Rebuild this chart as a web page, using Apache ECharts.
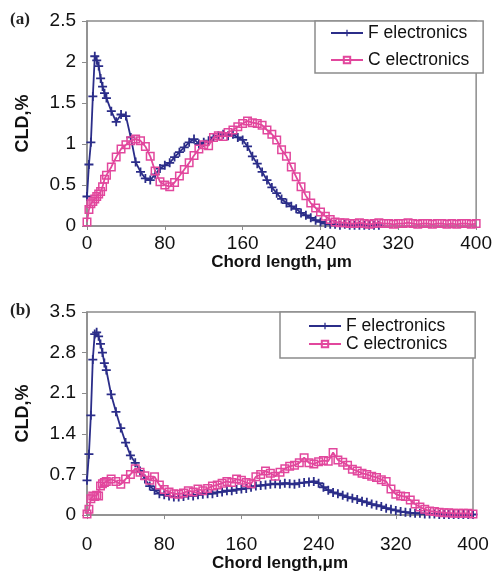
<!DOCTYPE html>
<html>
<head>
<meta charset="utf-8">
<script src="https://cdn.jsdelivr.net/npm/echarts@6/dist/echarts.min.js"></script>
<style>
  html, body { margin: 0; padding: 0; background: #fff; }
  #main { width: 495px; height: 573px; }
</style>
</head>
<body>
<div id="main"></div>
<script>
// chord length bins, um (shared by both panels)
var chordLen = [0, 2, 4, 6, 8, 10, 12, 14, 16, 18, 20,
  25, 30, 35, 40, 45, 50, 55, 60, 65, 70, 75, 80, 85, 90, 95, 100,
  105, 110, 115, 120, 125, 130, 135, 140, 145, 150, 155, 160, 165, 170, 175, 180,
  185, 190, 195, 200, 205, 210, 215, 220, 225, 230, 235, 240, 245, 250, 255, 260,
  265, 270, 275, 280, 285, 290, 295, 300, 305, 310, 315, 320, 325, 330, 335, 340,
  345, 350, 355, 360, 365, 370, 375, 380, 385, 390, 395, 400];

// panel (a)
var fElecA = [0.36, 0.75, 1.02, 1.58, 2.07, 2.02, 1.95, 1.80, 1.70, 1.62, 1.56,
  1.40, 1.27, 1.36, 1.34, 1.08, 0.78, 0.66, 0.58, 0.56, 0.63,
  0.70, 0.74, 0.77, 0.84, 0.90, 0.96, 1.02, 1.06, 1.00, 1.02,
  1.04, 1.08, 1.10, 1.12, 1.10, 1.12, 1.08, 1.05, 0.97, 0.85,
  0.76, 0.66, 0.56, 0.47, 0.40, 0.33, 0.28, 0.24, 0.21, 0.16,
  0.13, 0.10, 0.07, 0.05, 0.03, 0.02, 0.02, 0.01, 0.02, 0.01,
  0.01, 0.01, 0.01, 0.01, 0.01, 0.01];
var cElecA = [0.05, 0.20, 0.27, 0.30, 0.33, 0.36, 0.39, 0.42, 0.48, 0.57, 0.62,
  0.72, 0.84, 0.94, 0.99, 1.04, 1.06, 1.04, 0.97, 0.85, 0.67,
  0.54, 0.50, 0.48, 0.53, 0.61, 0.69, 0.77, 0.86, 0.94, 0.99,
  0.98, 1.08, 1.10, 1.09, 1.14, 1.17, 1.21, 1.25, 1.28, 1.26,
  1.25, 1.23, 1.17, 1.12, 1.05, 0.93, 0.85, 0.72, 0.60, 0.48,
  0.37, 0.28, 0.22, 0.17, 0.12, 0.08, 0.05, 0.04,
  0.04, 0.03, 0.03, 0.04, 0.03, 0.02, 0.03, 0.04, 0.03, 0.03,
  0.02, 0.03, 0.03, 0.04, 0.03, 0.02, 0.03, 0.03, 0.02, 0.03,
  0.03, 0.02, 0.03, 0.02, 0.03, 0.03, 0.02, 0.03];

// panel (b)
var fElecB = [0.60, 1.05, 1.72, 2.68, 3.12, 3.15, 3.08, 2.95, 2.80, 2.62, 2.50,
  2.08, 1.78, 1.50, 1.25, 1.03, 0.90, 0.76, 0.62, 0.50, 0.43,
  0.37, 0.35, 0.33, 0.31, 0.31, 0.32, 0.34, 0.33, 0.35, 0.36,
  0.37, 0.37, 0.39, 0.40, 0.42, 0.42, 0.44, 0.45, 0.46, 0.48,
  0.50, 0.51, 0.52, 0.53, 0.54, 0.53, 0.55, 0.54, 0.53, 0.55,
  0.56, 0.57, 0.58, 0.55, 0.48, 0.43, 0.39, 0.37, 0.34, 0.31,
  0.29, 0.27, 0.24, 0.22, 0.19, 0.17, 0.15, 0.12, 0.10, 0.08,
  0.06, 0.05, 0.04, 0.03, 0.03, 0.02, 0.02, 0.02, 0.01, 0.01,
  0.01, 0.01, 0.01, 0.01, 0.01, 0.01];
var cElecB = [0.02, 0.10, 0.28, 0.33, 0.32, 0.34, 0.33, 0.50, 0.54, 0.56, 0.58,
  0.62, 0.58, 0.53, 0.62, 0.70, 0.80, 0.74, 0.68, 0.60, 0.66,
  0.52, 0.44, 0.40, 0.37, 0.36, 0.38, 0.42, 0.40, 0.45, 0.42,
  0.46, 0.50, 0.52, 0.55, 0.58, 0.56, 0.62, 0.60, 0.56, 0.54,
  0.66, 0.70, 0.76, 0.72, 0.67, 0.74, 0.80, 0.84, 0.86, 0.90,
  0.99, 0.90, 0.88, 0.92, 0.94, 0.93, 1.08, 0.95, 0.91, 0.86,
  0.79, 0.76, 0.72, 0.70, 0.67, 0.65, 0.61, 0.58, 0.45, 0.36,
  0.33, 0.32, 0.26, 0.19, 0.14, 0.10, 0.07, 0.06, 0.05, 0.04,
  0.04, 0.03, 0.03, 0.03, 0.03, 0.02];

var xTicks = [0, 80, 160, 240, 320, 400];
var yTicksA = ['0', '0.5', '1', '1.5', '2', '2.5'];
var yTicksB = ['0', '0.7', '1.4', '2.1', '2.8', '3.5'];

var BLUE = '#2b2d89';
var PINK = '#e2479d';
var GREY = '#8c8c8c';
var FONT = '"Liberation Sans", Arial, sans-serif';
var PLUS = 'path://M3.2,0h1.6v3.2h3.2v1.6h-3.2v3.2h-1.6v-3.2h-3.2v-1.6h3.2z';

function pairs(xs, ys) {
  var out = [];
  for (var i = 0; i < ys.length; i++) out.push([xs[i], ys[i]]);
  return out;
}

function xAxisCfg(idx, name, gap, labelMargin) {
  return {
    gridIndex: idx, type: 'value', min: 0, max: 400, interval: 80,
    name: name, nameLocation: 'middle', nameGap: gap,
    nameTextStyle: { fontFamily: FONT, fontSize: 17, fontWeight: 'bold', color: '#111' },
    axisLine: { show: true, lineStyle: { color: GREY, width: 1.5 } },
    axisTick: { show: true, length: 4, lineStyle: { color: GREY } },
    axisLabel: { fontFamily: FONT, fontSize: 19, color: '#111', margin: labelMargin,
      formatter: function (v) { return xTicks.indexOf(v) >= 0 ? String(v) : ''; } },
    splitLine: { show: false }
  };
}

function yAxisCfg(idx, max, step, labels) {
  return {
    gridIndex: idx, type: 'value', min: 0, max: max, interval: step,
    name: 'CLD,%', nameLocation: 'middle', nameGap: 55,
    nameTextStyle: { fontFamily: FONT, fontSize: 18, fontWeight: 'bold', color: '#111' },
    axisLine: { show: true, lineStyle: { color: GREY, width: 1.5 } },
    axisTick: { show: true, length: 5, lineStyle: { color: GREY } },
    axisLabel: { fontFamily: FONT, fontSize: 19, color: '#111', margin: 11,
      formatter: function (v) { return labels[Math.round(v / step)]; } },
    splitLine: { show: false }
  };
}

function fSeries(xi, data) {
  return {
    name: 'F electronics', type: 'line', xAxisIndex: xi, yAxisIndex: xi,
    data: data, symbol: PLUS, symbolSize: 9, showSymbol: true,
    lineStyle: { color: BLUE, width: 1.8 },
    itemStyle: { color: BLUE },
    animation: false, z: 2
  };
}

function cSeries(xi, data) {
  return {
    name: 'C electronics', type: 'line', xAxisIndex: xi, yAxisIndex: xi,
    data: data, symbol: 'rect', symbolSize: 7.5, showSymbol: true,
    lineStyle: { color: PINK, width: 1.8 },
    itemStyle: { color: 'rgba(255,255,255,0)', borderColor: PINK, borderWidth: 1.5 },
    animation: false, z: 3
  };
}

var legendText = { fontFamily: FONT, fontSize: 17.5, color: '#111' };

var option = {
  backgroundColor: '#fff',
  animation: false,
  grid: [
    { left: 87, top: 21, width: 392, height: 205, show: true, borderColor: GREY, borderWidth: 1.5 },
    { left: 87, top: 312, width: 386, height: 206, show: true, borderColor: GREY, borderWidth: 1.5 }
  ],
  xAxis: [
    xAxisCfg(0, 'Chord length, \u03bcm', 27, 8),
    xAxisCfg(1, 'Chord length,\u03bcm', 39, 20)
  ],
  yAxis: [
    yAxisCfg(0, 2.5, 0.5, yTicksA),
    yAxisCfg(1, 3.5, 0.7, yTicksB)
  ],
  legend: [
    { orient: 'vertical', left: 315, top: 21, padding: [3, 14, 4, 15], itemGap: 9,
      itemWidth: 32, itemHeight: 8, backgroundColor: '#fff', borderColor: GREY, borderWidth: 1.5,
      textStyle: legendText, selectedMode: false,
      data: ['F electronics', 'C electronics'] },
    { orient: 'vertical', left: 280, top: 312, padding: [5, 28, 5, 28], itemGap: 0,
      itemWidth: 32, itemHeight: 8, backgroundColor: '#fff', borderColor: GREY, borderWidth: 1.5,
      textStyle: Object.assign({ lineHeight: 17 }, legendText), selectedMode: false,
      data: ['F electronics', 'C electronics'] }
  ],
  graphic: [
    { type: 'text', left: 10, top: 11, style: { text: '(a)', font: 'bold 17px "Liberation Serif", serif', fill: '#222' } },
    { type: 'text', left: 10, top: 302, style: { text: '(b)', font: 'bold 17px "Liberation Serif", serif', fill: '#222' } }
  ],
  series: [
    fSeries(0, pairs(chordLen, fElecA)),
    cSeries(0, pairs(chordLen, cElecA)),
    fSeries(1, pairs(chordLen, fElecB)),
    cSeries(1, pairs(chordLen, cElecB))
  ]
};

var myChart = echarts.init(document.getElementById('main'));
myChart.setOption(option);
</script>
</body>
</html>
